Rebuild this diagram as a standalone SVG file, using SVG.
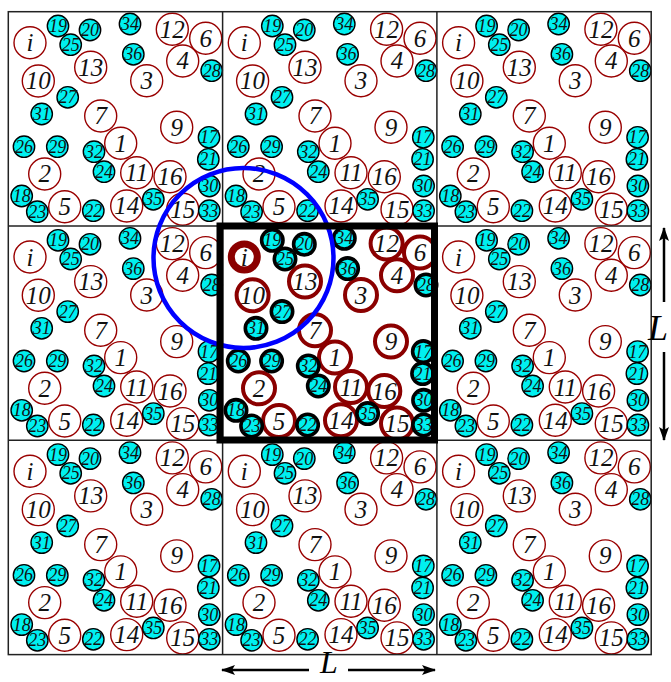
<svg xmlns="http://www.w3.org/2000/svg" xmlns:xlink="http://www.w3.org/1999/xlink" width="671" height="682" viewBox="0 0 671 682">
<style>
.r{fill:#fff;stroke:#990000;stroke-width:1.4}
.c{fill:#00f0f0;stroke:#000;stroke-width:1.4}
.R{fill:#fff;stroke:#8b0000;stroke-width:4}
.I{fill:#fff;stroke:#8b0000;stroke-width:7}
.C{fill:#00f0f0;stroke:#000;stroke-width:3.6}
.tr{font-family:"Liberation Serif",serif;font-style:italic;font-size:25px;text-anchor:middle;dominant-baseline:central;fill:#111}
.tc{font-family:"Liberation Serif",serif;font-style:italic;font-size:18px;text-anchor:middle;dominant-baseline:central;fill:#111}
.grid{fill:none;stroke:#222;stroke-width:1.5}
.ax{stroke:#000;stroke-width:2.5;fill:none}
.lab{font-family:"Liberation Serif",serif;font-style:italic;font-size:36px;text-anchor:middle;fill:#000}
</style>
<defs>
<marker id="ah" viewBox="0 0 14 10" refX="13" refY="5" markerWidth="14" markerHeight="10" markerUnits="userSpaceOnUse" orient="auto">
<path d="M0,0 L14,5 L0,10 L3,5 Z" fill="#000"/>
</marker>
<g id="cell">
<g id="a-12"><circle class="r" cx="164" cy="17.6" r="16"/><text class="tr" x="164" y="17.6">12</text></g>
<g id="a-6"><circle class="r" cx="197.4" cy="26.6" r="16"/><text class="tr" x="197.4" y="26.6">6</text></g>
<g id="a-4"><circle class="r" cx="174.4" cy="49.3" r="16"/><text class="tr" x="174.4" y="49.3">4</text></g>
<g id="a-i"><circle class="r" cx="21.7" cy="31" r="16"/><text class="tr" x="21.7" y="31">i</text></g>
<g id="a-13"><circle class="r" cx="82.4" cy="55.6" r="16"/><text class="tr" x="82.4" y="55.6">13</text></g>
<g id="a-10"><circle class="r" cx="30" cy="69.3" r="16"/><text class="tr" x="30" y="69.3">10</text></g>
<g id="a-3"><circle class="r" cx="138.4" cy="69" r="16"/><text class="tr" x="138.4" y="69">3</text></g>
<g id="a-7"><circle class="r" cx="92.4" cy="104.3" r="16"/><text class="tr" x="92.4" y="104.3">7</text></g>
<g id="a-9"><circle class="r" cx="168.4" cy="115.6" r="16"/><text class="tr" x="168.4" y="115.6">9</text></g>
<g id="a-1"><circle class="r" cx="112.4" cy="131.6" r="16"/><text class="tr" x="112.4" y="131.6">1</text></g>
<g id="a-2"><circle class="r" cx="36.4" cy="162.3" r="16"/><text class="tr" x="36.4" y="162.3">2</text></g>
<g id="a-11"><circle class="r" cx="128.4" cy="161" r="16"/><text class="tr" x="128.4" y="161">11</text></g>
<g id="a-16"><circle class="r" cx="161.7" cy="165" r="16"/><text class="tr" x="161.7" y="165">16</text></g>
<g id="a-5"><circle class="r" cx="56.4" cy="195" r="16"/><text class="tr" x="56.4" y="195">5</text></g>
<g id="a-14"><circle class="r" cx="118.4" cy="194.3" r="16"/><text class="tr" x="118.4" y="194.3">14</text></g>
<g id="a-15"><circle class="r" cx="174.4" cy="197.6" r="16"/><text class="tr" x="174.4" y="197.6">15</text></g>
<g id="a-19"><circle class="c" cx="49.7" cy="14.3" r="10.7"/><text class="tc" x="49.7" y="14.3">19</text></g>
<g id="a-20"><circle class="c" cx="81.7" cy="18.3" r="10.7"/><text class="tc" x="81.7" y="18.3">20</text></g>
<g id="a-25"><circle class="c" cx="62.4" cy="33" r="10.7"/><text class="tc" x="62.4" y="33">25</text></g>
<g id="a-34"><circle class="c" cx="121.7" cy="12.3" r="10.7"/><text class="tc" x="121.7" y="12.3">34</text></g>
<g id="a-36"><circle class="c" cx="125" cy="42.6" r="10.7"/><text class="tc" x="125" y="42.6">36</text></g>
<g id="a-28"><circle class="c" cx="203.4" cy="59" r="10.7"/><text class="tc" x="203.4" y="59">28</text></g>
<g id="a-27"><circle class="c" cx="59.4" cy="85.6" r="10.7"/><text class="tc" x="59.4" y="85.6">27</text></g>
<g id="a-31"><circle class="c" cx="33.4" cy="102.3" r="10.7"/><text class="tc" x="33.4" y="102.3">31</text></g>
<g id="a-26"><circle class="c" cx="15.7" cy="135" r="10.7"/><text class="tc" x="15.7" y="135">26</text></g>
<g id="a-29"><circle class="c" cx="49" cy="135" r="10.7"/><text class="tc" x="49" y="135">29</text></g>
<g id="a-32"><circle class="c" cx="85.7" cy="140" r="10.7"/><text class="tc" x="85.7" y="140">32</text></g>
<g id="a-17"><circle class="c" cx="200.7" cy="125.6" r="10.7"/><text class="tc" x="200.7" y="125.6">17</text></g>
<g id="a-21"><circle class="c" cx="200" cy="147.6" r="10.7"/><text class="tc" x="200" y="147.6">21</text></g>
<g id="a-24"><circle class="c" cx="95.7" cy="160" r="10.7"/><text class="tc" x="95.7" y="160">24</text></g>
<g id="a-30"><circle class="c" cx="201" cy="174.3" r="10.7"/><text class="tc" x="201" y="174.3">30</text></g>
<g id="a-18"><circle class="c" cx="13.4" cy="184.3" r="10.7"/><text class="tc" x="13.4" y="184.3">18</text></g>
<g id="a-23"><circle class="c" cx="29" cy="200" r="10.7"/><text class="tc" x="29" y="200">23</text></g>
<g id="a-22"><circle class="c" cx="85" cy="199" r="10.7"/><text class="tc" x="85" y="199">22</text></g>
<g id="a-35"><circle class="c" cx="145" cy="187.6" r="10.7"/><text class="tc" x="145" y="187.6">35</text></g>
<g id="a-33"><circle class="c" cx="201" cy="199" r="10.7"/><text class="tc" x="201" y="199">33</text></g>
</g>
</defs>
<rect width="671" height="682" fill="#fff"/>
<g id="images">
<use xlink:href="#cell" href="#cell" x="8.3" y="11.7"/>
<use xlink:href="#cell" href="#cell" x="222.6" y="11.7"/>
<use xlink:href="#cell" href="#cell" x="436.9" y="11.7"/>
<use xlink:href="#cell" href="#cell" x="8.3" y="226"/>
<use xlink:href="#cell" href="#cell" x="436.9" y="226"/>
<use xlink:href="#cell" href="#cell" x="8.3" y="440.3"/>
<use xlink:href="#cell" href="#cell" x="222.6" y="440.3"/>
<use xlink:href="#cell" href="#cell" x="436.9" y="440.3"/>
</g>
<g id="center" transform="translate(222.6,226)">
<g id="n-12"><circle class="R" cx="164" cy="17.6" r="16"/><text class="tr" x="164" y="17.6">12</text></g>
<g id="n-6"><circle class="R" cx="197.4" cy="26.6" r="16"/><text class="tr" x="197.4" y="26.6">6</text></g>
<g id="n-4"><circle class="R" cx="174.4" cy="49.3" r="16"/><text class="tr" x="174.4" y="49.3">4</text></g>
<g id="n-i"><circle class="I" cx="21.7" cy="31" r="13"/><text class="tr" x="21.7" y="31">i</text></g>
<g id="n-13"><circle class="R" cx="82.4" cy="55.6" r="16"/><text class="tr" x="82.4" y="55.6">13</text></g>
<g id="n-10"><circle class="R" cx="30" cy="69.3" r="16"/><text class="tr" x="30" y="69.3">10</text></g>
<g id="n-3"><circle class="R" cx="138.4" cy="69" r="16"/><text class="tr" x="138.4" y="69">3</text></g>
<g id="n-7"><circle class="R" cx="92.4" cy="104.3" r="16"/><text class="tr" x="92.4" y="104.3">7</text></g>
<g id="n-9"><circle class="R" cx="168.4" cy="115.6" r="16"/><text class="tr" x="168.4" y="115.6">9</text></g>
<g id="n-1"><circle class="R" cx="112.4" cy="131.6" r="16"/><text class="tr" x="112.4" y="131.6">1</text></g>
<g id="n-2"><circle class="R" cx="36.4" cy="162.3" r="16"/><text class="tr" x="36.4" y="162.3">2</text></g>
<g id="n-11"><circle class="R" cx="128.4" cy="161" r="16"/><text class="tr" x="128.4" y="161">11</text></g>
<g id="n-16"><circle class="R" cx="161.7" cy="165" r="16"/><text class="tr" x="161.7" y="165">16</text></g>
<g id="n-5"><circle class="R" cx="56.4" cy="195" r="16"/><text class="tr" x="56.4" y="195">5</text></g>
<g id="n-14"><circle class="R" cx="118.4" cy="194.3" r="16"/><text class="tr" x="118.4" y="194.3">14</text></g>
<g id="n-15"><circle class="R" cx="174.4" cy="197.6" r="16"/><text class="tr" x="174.4" y="197.6">15</text></g>
<g id="n-19"><circle class="C" cx="49.7" cy="14.3" r="10.7"/><text class="tc" x="49.7" y="14.3">19</text></g>
<g id="n-20"><circle class="C" cx="81.7" cy="18.3" r="10.7"/><text class="tc" x="81.7" y="18.3">20</text></g>
<g id="n-25"><circle class="C" cx="62.4" cy="33" r="10.7"/><text class="tc" x="62.4" y="33">25</text></g>
<g id="n-34"><circle class="C" cx="121.7" cy="12.3" r="10.7"/><text class="tc" x="121.7" y="12.3">34</text></g>
<g id="n-36"><circle class="C" cx="125" cy="42.6" r="10.7"/><text class="tc" x="125" y="42.6">36</text></g>
<g id="n-28"><circle class="C" cx="203.4" cy="59" r="10.7"/><text class="tc" x="203.4" y="59">28</text></g>
<g id="n-27"><circle class="C" cx="59.4" cy="85.6" r="10.7"/><text class="tc" x="59.4" y="85.6">27</text></g>
<g id="n-31"><circle class="C" cx="33.4" cy="102.3" r="10.7"/><text class="tc" x="33.4" y="102.3">31</text></g>
<g id="n-26"><circle class="C" cx="15.7" cy="135" r="10.7"/><text class="tc" x="15.7" y="135">26</text></g>
<g id="n-29"><circle class="C" cx="49" cy="135" r="10.7"/><text class="tc" x="49" y="135">29</text></g>
<g id="n-32"><circle class="C" cx="85.7" cy="140" r="10.7"/><text class="tc" x="85.7" y="140">32</text></g>
<g id="n-17"><circle class="C" cx="200.7" cy="125.6" r="10.7"/><text class="tc" x="200.7" y="125.6">17</text></g>
<g id="n-21"><circle class="C" cx="200" cy="147.6" r="10.7"/><text class="tc" x="200" y="147.6">21</text></g>
<g id="n-24"><circle class="C" cx="95.7" cy="160" r="10.7"/><text class="tc" x="95.7" y="160">24</text></g>
<g id="n-30"><circle class="C" cx="201" cy="174.3" r="10.7"/><text class="tc" x="201" y="174.3">30</text></g>
<g id="n-18"><circle class="C" cx="13.4" cy="184.3" r="10.7"/><text class="tc" x="13.4" y="184.3">18</text></g>
<g id="n-23"><circle class="C" cx="29" cy="200" r="10.7"/><text class="tc" x="29" y="200">23</text></g>
<g id="n-22"><circle class="C" cx="85" cy="199" r="10.7"/><text class="tc" x="85" y="199">22</text></g>
<g id="n-35"><circle class="C" cx="145" cy="187.6" r="10.7"/><text class="tc" x="145" y="187.6">35</text></g>
<g id="n-33"><circle class="C" cx="201" cy="199" r="10.7"/><text class="tc" x="201" y="199">33</text></g>
</g>
<g id="grid" class="grid">
<rect x="8.3" y="11.7" width="642.9" height="642.9"/>
<line x1="222.6" y1="11.7" x2="222.6" y2="654.6"/>
<line x1="436.9" y1="11.7" x2="436.9" y2="654.6"/>
<line x1="8.3" y1="226" x2="651.2" y2="226"/>
<line x1="8.3" y1="440.3" x2="651.2" y2="440.3"/>
</g>
<circle id="cutoff" cx="243.5" cy="258" r="90" fill="none" stroke="#0000ff" stroke-width="4.5"/>
<rect id="box" x="220" y="226" width="214.5" height="214" fill="none" stroke="#000" stroke-width="7"/>
<g id="connectors">
<line class="ax" x1="664" y1="302" x2="664" y2="228" marker-end="url(#ah)"/>
<line class="ax" x1="664" y1="352" x2="664" y2="440" marker-end="url(#ah)"/>
<line class="ax" x1="309" y1="670" x2="222" y2="670" marker-end="url(#ah)"/>
<line class="ax" x1="348" y1="670" x2="435" y2="670" marker-end="url(#ah)"/>
</g>
<text class="lab" x="658" y="340">L</text>
<text class="lab" x="329" y="673" style="font-size:32px">L</text>
</svg>
